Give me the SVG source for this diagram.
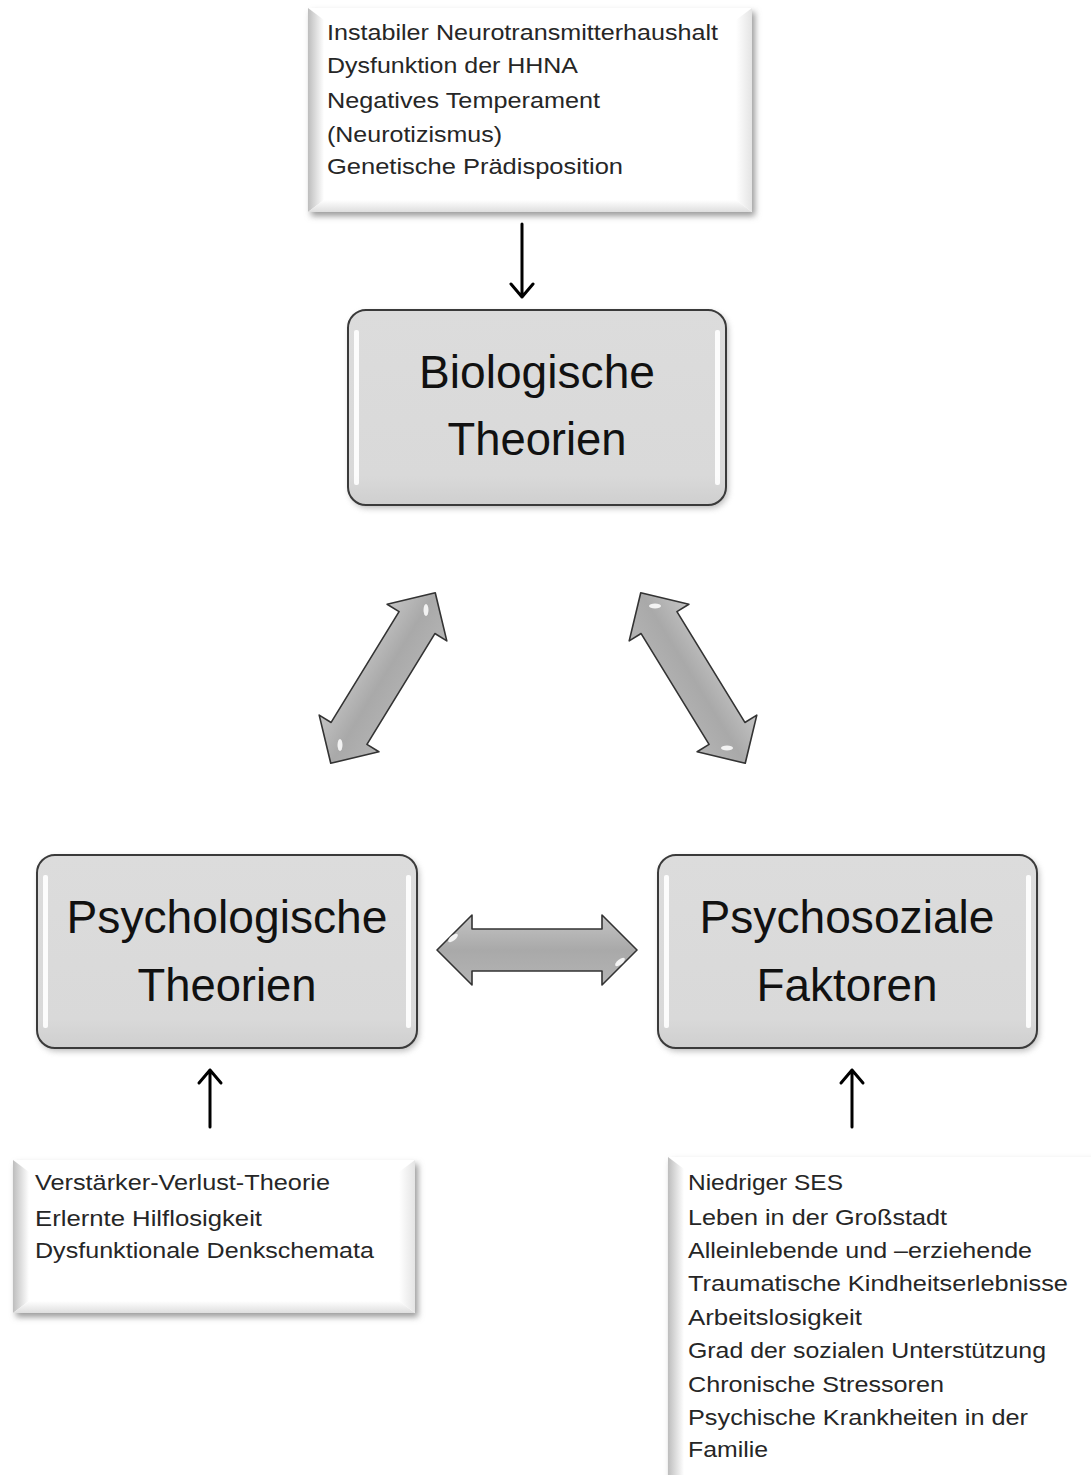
<svg xmlns="http://www.w3.org/2000/svg" width="1091" height="1475" viewBox="0 0 1091 1475">
<style>
.t{font-family:"Liberation Sans",Arial,sans-serif;font-size:22px;fill:#262626}
.big{font-family:"Liberation Sans",Arial,sans-serif;font-size:46px;fill:#111;text-anchor:middle}
.thin{stroke:#000;stroke-width:3;fill:none;stroke-linecap:round;stroke-linejoin:round}
.node{fill:#d9d9d9;stroke:#3a3a3a;stroke-width:2}
.dbl{fill:url(#ag);stroke:#333;stroke-width:1.6;stroke-linejoin:round}
</style>
<defs>
<filter id="sh" x="-10%" y="-10%" width="120%" height="130%"><feGaussianBlur stdDeviation="3"/></filter>
<linearGradient id="bevL" x1="0" y1="0" x2="1" y2="0"><stop offset="0" stop-color="#bdbdbd"/><stop offset="1" stop-color="#ffffff"/></linearGradient>
<linearGradient id="bevB" x1="0" y1="0" x2="0" y2="1"><stop offset="0" stop-color="#ffffff"/><stop offset="1" stop-color="#dedede"/></linearGradient>
<linearGradient id="bevR" x1="0" y1="0" x2="1" y2="0"><stop offset="0" stop-color="#ffffff"/><stop offset="1" stop-color="#e4e4e4"/></linearGradient>
<linearGradient id="ng" x1="0" y1="0" x2="0" y2="1"><stop offset="0" stop-color="#dcdcdc"/><stop offset="0.85" stop-color="#d9d9d9"/><stop offset="1" stop-color="#cfcfcf"/></linearGradient>
<linearGradient id="ag" x1="0" y1="0" x2="0" y2="1"><stop offset="0" stop-color="#c4c4c4"/><stop offset="0.5" stop-color="#a9a9a9"/><stop offset="1" stop-color="#b4b4b4"/></linearGradient>
<path id="arr" d="M -100 0 L -65 -35 L -65 -21 L 65 -21 L 65 -35 L 100 0 L 65 35 L 65 21 L -65 21 L -65 35 Z"/>
</defs>
<rect width="1091" height="1475" fill="#fff"/>

<g id="bio-factors">
<rect x="311" y="12" width="444" height="204" fill="#9a9a9a" filter="url(#sh)"/>
<rect x="308" y="8" width="444" height="204" fill="#fff"/>
<polygon points="308,8 324,20 324,200 308,212" fill="url(#bevL)"/>
<polygon points="308,212 324,200 736,200 752,212" fill="url(#bevB)"/>
<polygon points="736,20 752,8 752,212 736,200" fill="url(#bevR)"/>
<text class="t" x="327" y="40" textLength="391" lengthAdjust="spacingAndGlyphs">Instabiler Neurotransmitterhaushalt</text>
<text class="t" x="327" y="73" textLength="251" lengthAdjust="spacingAndGlyphs">Dysfunktion der HHNA</text>
<text class="t" x="327" y="108" textLength="273" lengthAdjust="spacingAndGlyphs">Negatives Temperament</text>
<text class="t" x="327" y="142" textLength="175" lengthAdjust="spacingAndGlyphs">(Neurotizismus)</text>
<text class="t" x="327" y="174" textLength="296" lengthAdjust="spacingAndGlyphs">Genetische Prädisposition</text>
</g>

<g id="biologische">
<rect x="350" y="313" width="378" height="195" rx="18" fill="#888" filter="url(#sh)" opacity="0.6"/>
<rect class="node" x="348" y="310" width="378" height="195" rx="18" style="fill:url(#ng)"/>
<rect x="354" y="330" width="5" height="155" rx="2" fill="#fff" opacity="0.9"/>
<rect x="715" y="330" width="5" height="155" rx="2" fill="#fff" opacity="0.9"/>
<text class="big" x="537" y="388" textLength="236" lengthAdjust="spacingAndGlyphs">Biologische</text>
<text class="big" x="537" y="455" textLength="179" lengthAdjust="spacingAndGlyphs">Theorien</text>
</g>

<g id="psychologische">
<rect x="39" y="858" width="380" height="193" rx="18" fill="#888" filter="url(#sh)" opacity="0.6"/>
<rect class="node" x="37" y="855" width="380" height="193" rx="18" style="fill:url(#ng)"/>
<rect x="43" y="875" width="5" height="153" rx="2" fill="#fff" opacity="0.9"/>
<rect x="406" y="875" width="5" height="153" rx="2" fill="#fff" opacity="0.9"/>
<text class="big" x="227" y="933" textLength="321" lengthAdjust="spacingAndGlyphs">Psychologische</text>
<text class="big" x="227" y="1001" textLength="179" lengthAdjust="spacingAndGlyphs">Theorien</text>
</g>

<g id="psychosoziale">
<rect x="660" y="858" width="379" height="193" rx="18" fill="#888" filter="url(#sh)" opacity="0.6"/>
<rect class="node" x="658" y="855" width="379" height="193" rx="18" style="fill:url(#ng)"/>
<rect x="664" y="875" width="5" height="153" rx="2" fill="#fff" opacity="0.9"/>
<rect x="1026" y="875" width="5" height="153" rx="2" fill="#fff" opacity="0.9"/>
<text class="big" x="847" y="933" textLength="295" lengthAdjust="spacingAndGlyphs">Psychosoziale</text>
<text class="big" x="847" y="1001" textLength="181" lengthAdjust="spacingAndGlyphs">Faktoren</text>
</g>

<g id="psych-factors">
<rect x="16" y="1164" width="402" height="153" fill="#9a9a9a" filter="url(#sh)"/>
<rect x="13" y="1160" width="402" height="153" fill="#fff"/>
<polygon points="13,1160 29,1172 29,1301 13,1313" fill="url(#bevL)"/>
<polygon points="13,1313 29,1301 399,1301 415,1313" fill="url(#bevB)"/>
<polygon points="399,1172 415,1160 415,1313 399,1301" fill="url(#bevR)"/>
<text class="t" x="35" y="1190" textLength="295" lengthAdjust="spacingAndGlyphs">Verstärker-Verlust-Theorie</text>
<text class="t" x="35" y="1226" textLength="227" lengthAdjust="spacingAndGlyphs">Erlernte Hilflosigkeit</text>
<text class="t" x="35" y="1258" textLength="339" lengthAdjust="spacingAndGlyphs">Dysfunktionale Denkschemata</text>
</g>

<g id="psychosocial-factors">
<rect x="671" y="1161" width="430" height="330" fill="#9a9a9a" filter="url(#sh)"/>
<rect x="668" y="1157" width="430" height="330" fill="#fff"/>
<polygon points="668,1157 684,1169 684,1475 668,1475" fill="url(#bevL)"/>
<text class="t" x="688" y="1190" textLength="155" lengthAdjust="spacingAndGlyphs">Niedriger SES</text>
<text class="t" x="688" y="1225" textLength="259" lengthAdjust="spacingAndGlyphs">Leben  in der Großstadt</text>
<text class="t" x="688" y="1258" textLength="344" lengthAdjust="spacingAndGlyphs">Alleinlebende und –erziehende</text>
<text class="t" x="688" y="1291" textLength="380" lengthAdjust="spacingAndGlyphs">Traumatische Kindheitserlebnisse</text>
<text class="t" x="688" y="1325" textLength="174" lengthAdjust="spacingAndGlyphs">Arbeitslosigkeit</text>
<text class="t" x="688" y="1358" textLength="358" lengthAdjust="spacingAndGlyphs">Grad der sozialen Unterstützung</text>
<text class="t" x="688" y="1392" textLength="256" lengthAdjust="spacingAndGlyphs">Chronische Stressoren</text>
<text class="t" x="688" y="1425" textLength="340" lengthAdjust="spacingAndGlyphs">Psychische Krankheiten in der</text>
<text class="t" x="688" y="1457" textLength="80" lengthAdjust="spacingAndGlyphs">Familie</text>
</g>

<g id="connectors">
<path class="thin" d="M522 224 L522 297 M511 284 L522 297 L533 284"/>
<path class="thin" d="M210 1127 L210 1070 M199 1083 L210 1070 L221 1083"/>
<path class="thin" d="M852 1127 L852 1070 M841 1083 L852 1070 L863 1083"/>
<use href="#arr" class="dbl" transform="translate(537,950)"/>
<use href="#arr" class="dbl" transform="translate(383,678) rotate(-58.5)"/>
<use href="#arr" class="dbl" transform="translate(693,678) rotate(58.5)"/>
<g fill="#fff" opacity="0.85">
<ellipse cx="453" cy="938" rx="6" ry="2.5" transform="rotate(-40 453 938)"/>
<ellipse cx="620" cy="962" rx="6" ry="2.5" transform="rotate(-40 620 962)"/>
<ellipse cx="426" cy="610" rx="2.5" ry="6"/>
<ellipse cx="340" cy="745" rx="2.5" ry="6"/>
<ellipse cx="655" cy="606" rx="6" ry="2.5"/>
<ellipse cx="727" cy="748" rx="6" ry="2.5"/>
</g>
</g>
</svg>
